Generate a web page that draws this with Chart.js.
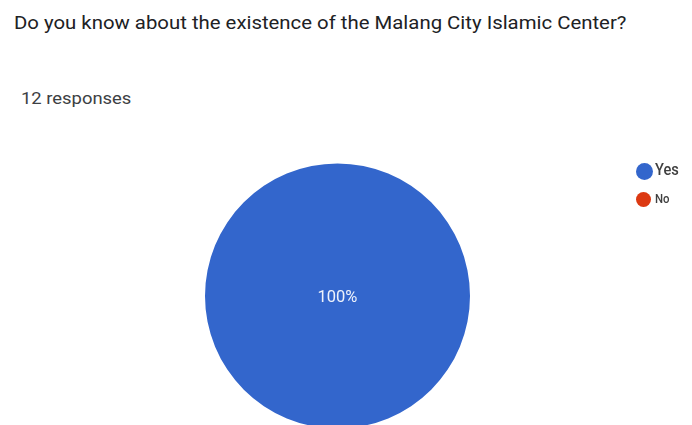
<!DOCTYPE html>
<html>
<head>
<meta charset="utf-8">
<script src="https://cdn.jsdelivr.net/npm/chart.js@4"></script>
<style>
  html, body { margin:0; padding:0; width:692px; height:425px; overflow:hidden; background:#fff; font-family: Roboto, "Noto Sans", Arial, sans-serif; }
  #title { position:absolute; left:14px; top:13px; font-size:18.5px; line-height:1.17; color:#202124; white-space:nowrap; transform:scaleX(1.1); transform-origin:0 0; }
  #resp { position:absolute; left:21px; top:90px; font-size:16px; line-height:1.17; color:#3c4043; white-space:nowrap; transform:scaleX(1.15); transform-origin:0 0; }
  #wrap { position:absolute; left:0; top:0; width:692px; height:450px; }
  #legend { position:absolute; left:0; top:0; }
  .dot { position:absolute; border-radius:50%; }
  .lt { position:absolute; color:#404040; white-space:nowrap; line-height:1.17; transform-origin:0 0; }
</style>
</head>
<body>
<div id="title">Do you know about the existence of the Malang City Islamic Center?</div>
<div id="resp">12 responses</div>
<div id="wrap"><canvas id="c"></canvas></div>
<div id="legend"></div>
<script>
const categories = ['Yes', 'No'];
const responses = [12, 0];
const sliceColors = ['#3366cc', '#dc3912'];

// legend layout (style only)
const legendStyle = [
  { cx: 644, cy: 171.5, d: 17, tx: 655, fs: 17, capTop: 164, sx: 0.86 },
  { cx: 643, cy: 199.5, d: 15, tx: 655, fs: 12, capTop: 195, sx: 0.95 }
];
const legendEl = document.getElementById('legend');
categories.forEach((cat, i) => {
  const s = legendStyle[i];
  const dot = document.createElement('div');
  dot.className = 'dot';
  dot.style.background = sliceColors[i];
  dot.style.width = s.d + 'px';
  dot.style.height = s.d + 'px';
  dot.style.left = (s.cx - s.d / 2) + 'px';
  dot.style.top = (s.cy - s.d / 2) + 'px';
  const t = document.createElement('div');
  t.className = 'lt';
  t.textContent = cat;
  t.style.fontSize = s.fs + 'px';
  t.style.left = s.tx + 'px';
  t.style.top = (s.capTop - s.fs * (0.927 - 0.711)) + 'px';
  t.style.transform = 'scaleX(' + s.sx + ')';
  t.style.fontWeight = '500';
  legendEl.appendChild(dot);
  legendEl.appendChild(t);
});

const pctLabels = {
  id: 'pctLabels',
  afterDatasetsDraw(chart) {
    const ctx = chart.ctx;
    const meta = chart.getDatasetMeta(0);
    const data = chart.data.datasets[0].data;
    const total = data.reduce((a, b) => a + b, 0);
    ctx.save();
    ctx.fillStyle = '#eef2fb';
    ctx.font = '16.5px Roboto, "Noto Sans", sans-serif';
    ctx.textAlign = 'center';
    ctx.textBaseline = 'alphabetic';
    meta.data.forEach((arc, i) => {
      const v = data[i];
      if (!v) return;
      const pct = Math.round(v / total * 100);
      let x, y;
      if (pct === 100) { x = arc.x; y = arc.y; }
      else { const p = arc.tooltipPosition(); x = p.x; y = p.y; }
      ctx.fillText(pct + '%', x, y + 6);
    });
    ctx.restore();
  }
};

new Chart(document.getElementById('c'), {
  type: 'pie',
  data: {
    labels: categories,
    datasets: [{ data: responses, backgroundColor: sliceColors, borderWidth: 0 }]
  },
  options: {
    responsive: true,
    maintainAspectRatio: false,
    animation: false,
    layout: { padding: { left: 205, right: 222, top: 163, bottom: 21 } },
    plugins: { legend: { display: false }, tooltip: { enabled: false } }
  },
  plugins: [pctLabels]
});
</script>
</body>
</html>
